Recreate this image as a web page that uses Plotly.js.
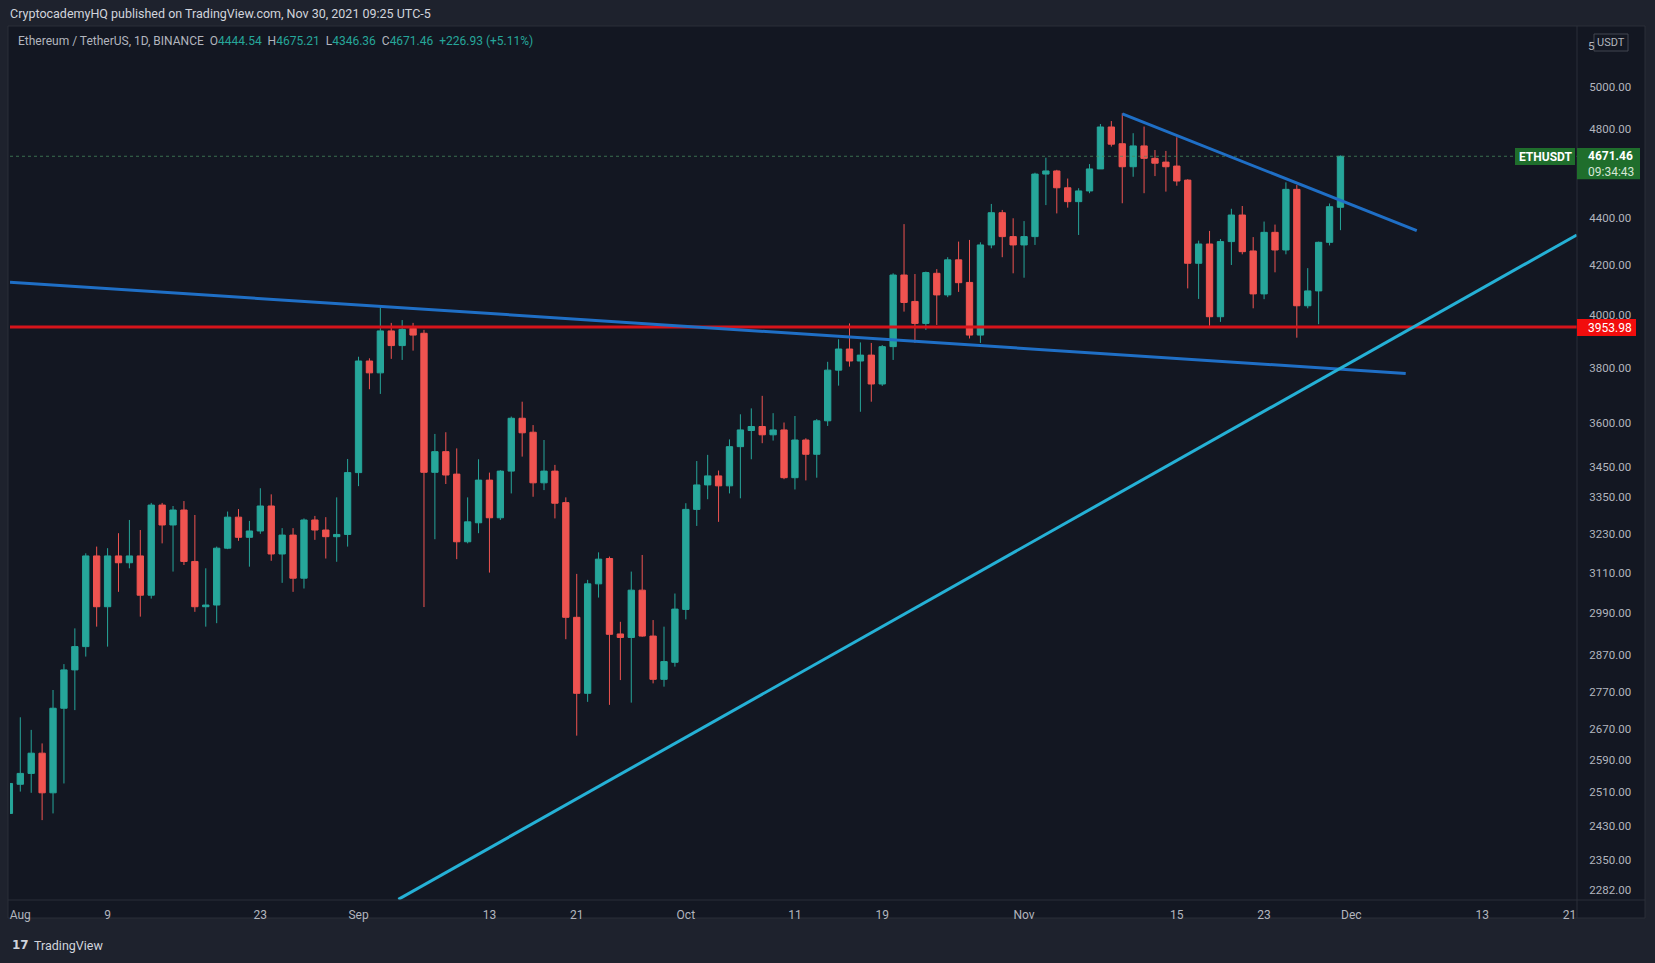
<!DOCTYPE html>
<html><head><meta charset="utf-8">
<script src="https://cdn.plot.ly/plotly-3.0.1.min.js"></script>
<style>html,body{margin:0;padding:0;background:#1e222d;overflow:hidden}#chart{width:1655px;height:963px}</style>
</head><body><div id="chart"></div>
<script>
// ---- data (ETH/USDT daily, Binance) ----
const firstDay = '2021-07-31';
const openP = [2459,
 2530,2557,2608,2509,2725,2829,2894,3162,3009,3162,3141,3162,3043,3323,3259,3307,3145,3009,3014,3186,3284,3220,3240,3320,3168,3227,3094,3275,3243,3222,3229,
 3430,3825,3781,3939,3883,3949,3930,3431,3501,3425,3206,3266,3405,3282,3435,3617,3568,3396,3435,3331,2978,2765,3077,3154,2930,2920,3058,2924,2803,2850,
 3001,3309,3389,3419,3386,3518,3574,3588,3559,3576,3413,3541,3492,3608,3791,3870,3825,3847,3740,3879,4160,4054,3968,4167,4080,4222,4130,3923,4284,4421,4319,
 4284,4319,4591,4605,4530,4469,4516,4614,4807,4729,4624,4719,4662,4645,4627,4564,4208,4288,3994,4298,4411,4259,4084,4337,4263,4523,4037,4096,4295,4444.54];
const highP = [2550,
 2701,2668,2633,2774,2845,2946,3170,3191,3186,3233,3275,3243,3330,3330,3320,3336,3291,3124,3191,3302,3310,3272,3378,3358,3249,3249,3280,3288,3284,3348,3476,
 3841,3835,4031,3970,3981,3970,3943,3562,3568,3512,3348,3475,3430,3438,3623,3676,3593,3541,3456,3348,3107,3089,3173,3160,2965,3114,3165,2970,2951,3048,
 3329,3469,3490,3437,3543,3631,3652,3697,3635,3602,3625,3547,3614,3822,3907,3968,3895,3893,3885,4167,4372,4164,4174,4184,4233,4298,4305,4295,4459,4433,4397,
 4385,4597,4665,4610,4571,4528,4636,4821,4835,4872,4778,4809,4700,4696,4759,4568,4302,4343,4309,4438,4450,4317,4383,4370,4554,4542,4188,4298,4461,4675.21];
const lowP = [2445,
 2512,2509,2443,2459,2532,2720,2866,2951,2894,3053,3124,2980,3033,3201,3114,3134,2994,2951,2961,3183,3209,3129,3231,3147,3080,3053,3063,3212,3154,3144,3191,
 3385,3721,3704,3833,3829,3864,3008,3214,3392,3152,3201,3233,3111,3275,3361,3484,3350,3372,3280,2915,2653,2742,3036,2734,2801,2740,2922,2792,2783,2838,
 2972,3256,3342,3269,3361,3345,3475,3530,3539,3408,3374,3404,3413,3590,3734,3804,3640,3676,3733,3829,4014,3893,3943,3962,4071,4092,3910,3893,4270,4233,4167,
 4149,4284,4454,4418,4443,4326,4506,4614,4716,4462,4579,4506,4582,4513,4539,4106,4064,3959,3974,4201,4245,4027,4063,4171,4245,3913,4027,3965,4282,4346.36];
const closeP = [2532,
 2557,2608,2509,2725,2829,2894,3162,3009,3162,3141,3162,3043,3323,3259,3307,3145,3009,3014,3186,3284,3220,3240,3320,3168,3227,3094,3275,3243,3222,3229,3430,
 3825,3781,3939,3883,3945,3923,3431,3501,3422,3206,3269,3405,3282,3435,3617,3566,3396,3435,3329,2978,2765,3077,3152,2929,2920,3058,2924,2803,2852,3002,
 3309,3389,3419,3386,3518,3576,3588,3559,3576,3413,3541,3492,3608,3791,3870,3825,3847,3740,3879,4160,4050,3968,4170,4080,4222,4129,3923,4284,4421,4319,4284,
 4319,4591,4605,4530,4469,4516,4614,4807,4727,4624,4719,4662,4640,4624,4560,4208,4288,3994,4298,4411,4256,4084,4337,4263,4523,4037,4096,4295,4447,4671.46];

const yTickValues = [5000,4800,4400,4200,4000,3800,3600,3450,3350,3230,3110,2990,2870,2770,2670,2590,2510,2430,2350,2282];
const hiddenTopTick = 5200;   // label mostly hidden behind the USDT badge, only its first digit shows
const xTickDates = ['2021-08-01','2021-08-09','2021-08-23','2021-09-01','2021-09-13','2021-09-21','2021-10-01','2021-10-11','2021-10-19','2021-11-01','2021-11-15','2021-11-23','2021-12-01','2021-12-13','2021-12-21'];
const xTickLabels = ['Aug','9','23','Sep','13','21','Oct','11','19','Nov','15','23','Dec','13','21'];

const supportLevel = 3953.98;
const lastPrice = 4671.46;
const lastTime = '09:34:43';
const symbol = 'ETHUSDT';
const trendLongX = ['2021-07-31 01:21','2021-12-05 23:30'];
const trendLongY = [4131, 3779];
const trendShortX = ['2021-11-10 00:15','2021-12-06 23:50'];
const trendShortY = [4869, 4344];
const trendRiseX = ['2021-09-04 15:36','2021-12-21 15:50'];
const trendRiseY = [2261, 4326];

// ---- build ----
const dates = [];
{ const d0 = new Date(firstDay + 'T00:00:00Z');
  for (let i = 0; i < closeP.length; i++) { const d = new Date(d0.getTime() + i*86400000); dates.push(d.toISOString().slice(0,10)); } }

const W = 1655, H = 963, ML = 10, MR = 78, MT = 27, MB = 63;
const PW = W-ML-MR, PH = H-MT-MB;
const Y0 = 3.35404, Y1 = 3.72428;
const XR = ['2021-07-31 01:21','2021-12-21 16:19'];
const px = p => (p-ML)/PW;
const py = p => (H-MB-p)/PH;
const priceToPix = v => MT + (Y1-Math.log10(v))/(Y1-Y0)*PH;
const FONT = 'Roboto, "Open Sans", sans-serif';
const UP = '#26a69a', DOWN = '#ef5350';

const traces = [
 {type:'scatter', mode:'lines', x:[XR[0], XR[1]], y:[lastPrice,lastPrice], line:{color:'rgba(70,140,95,0.75)', width:1, dash:'dot'}, hoverinfo:'skip', showlegend:false},
 {type:'candlestick', x:dates, open:openP, high:highP, low:lowP, close:closeP,
  increasing:{line:{color:UP, width:1}, fillcolor:UP},
  decreasing:{line:{color:DOWN, width:1}, fillcolor:DOWN},
  whiskerwidth:0, hoverinfo:'skip', showlegend:false},
 {type:'scatter', mode:'lines', x:['2021-07-20','2022-01-10'], y:[supportLevel,supportLevel], line:{color:'#d7141b', width:3}, hoverinfo:'skip', showlegend:false},
 {type:'scatter', mode:'lines', x:trendLongX, y:trendLongY, line:{color:'#1f6fc6', width:3}, hoverinfo:'skip', showlegend:false},
 {type:'scatter', mode:'lines', x:trendShortX, y:trendShortY, line:{color:'#1f6fc6', width:3}, hoverinfo:'skip', showlegend:false},
 {type:'scatter', mode:'lines', x:trendRiseX, y:trendRiseY, line:{color:'#25b1d6', width:3}, hoverinfo:'skip', showlegend:false}
];

const cy = priceToPix(lastPrice), cs = priceToPix(supportLevel), ct = priceToPix(hiddenTopTick);
const GREEN = '#1f6e2c';
const shapes = [
 {type:'rect', xref:'paper', yref:'paper', x0:px(8), x1:px(1645), y0:py(918), y1:py(26), fillcolor:'#131722', line:{color:'#2a2e39', width:1}, layer:'below'},
 {type:'line', xref:'paper', yref:'paper', x0:1, x1:1, y0:py(918), y1:py(26), line:{color:'#2a2e39', width:1}},
 {type:'line', xref:'paper', yref:'paper', x0:px(8), x1:px(1645), y0:0, y1:0, line:{color:'#2a2e39', width:1}},
 {type:'rect', xref:'paper', yref:'paper', x0:px(1515), x1:px(1575), y0:py(cy+8.7), y1:py(cy-8.3), fillcolor:GREEN, line:{width:0}},
 {type:'rect', xref:'paper', yref:'paper', x0:px(1577), x1:px(1640), y0:py(cy+23), y1:py(cy-8.3), fillcolor:GREEN, line:{width:0}},
 {type:'rect', xref:'paper', yref:'paper', x0:px(1577), x1:px(1636), y0:py(cs+9), y1:py(cs-8), fillcolor:'#f20d0d', line:{width:0}},
 {type:'rect', xref:'paper', yref:'paper', x0:px(1594), x1:px(1628), y0:py(51), y1:py(34), fillcolor:'#131722', line:{color:'#434651', width:1}}
];

const T = (x, y, text, opt={}) => Object.assign({xref:'paper', yref:'paper', x:px(x), y:py(y), text, showarrow:false, xanchor:'left', yanchor:'middle', font:{family:FONT, size:12, color:'#d1d4dc'}}, opt);
const v = s => '<span style="color:'+UP+'">'+s+'</span>';
const sp = '\u00a0\u00a0';
const annotations = [
 T(8, 13.5, 'CryptocademyHQ published on TradingView.com, Nov 30, 2021 09:25 UTC-5', {font:{family:FONT, size:12.5, color:'#d1d4dc'}}),
 T(16, 41, 'Ethereum / TetherUS, 1D, BINANCE' + sp + 'O' + v('4444.54') + sp + 'H' + v('4675.21') + sp + 'L' + v('4346.36') + sp + 'C' + v('4671.46') + sp + v('+226.93 (+5.11%)'), {font:{family:FONT, size:12, color:'#b2b5be'}}),
 T(1545, cy+0.3, '<b>'+symbol+'</b>', {xanchor:'center', font:{family:FONT, size:12, color:'#ffffff'}}),
 T(1586, cy, '<b>'+lastPrice.toFixed(2)+'</b>', {font:{family:FONT, size:12, color:'#ffffff'}}),
 T(1586, cy+15.5, lastTime, {font:{family:FONT, size:12, color:'#d6e6d6'}}),
 T(1586, cs+0.5, supportLevel.toFixed(2), {font:{family:FONT, size:12, color:'#ffffff'}}),
 T(1586, ct-1, String(hiddenTopTick).charAt(0), {font:{family:FONT, size:11.5, color:'#b2b5be'}}),
 T(1611, 42.5, 'USDT', {xanchor:'center', font:{family:FONT, size:11, color:'#b2b5be'}}),
 T(10, 945, '<b>17</b>', {font:{family:'DejaVu Sans', size:12, color:'#d1d4dc'}}),
 T(32, 945, 'TradingView', {font:{family:FONT, size:12.5, color:'#d1d4dc'}})
];

const layout = {
 width:W, height:H, margin:{l:ML, r:MR, t:MT, b:MB, pad:0},
 paper_bgcolor:'#1e222d', plot_bgcolor:'#131722',
 boxgap:0.42, boxgroupgap:0,
 showlegend:false, dragmode:false, hovermode:false,
 xaxis:{type:'date', range:XR, tickvals:xTickDates, ticktext:xTickLabels, tickmode:'array',
   showgrid:false, zeroline:false, showline:false, ticks:'outside', ticklen:4, tickcolor:'rgba(0,0,0,0)',
   tickfont:{family:FONT, size:12, color:'#b2b5be'}, rangeslider:{visible:false}, fixedrange:true},
 yaxis:{type:'log', side:'right', range:[Y0,Y1], tickmode:'array', tickvals:yTickValues, ticktext:yTickValues.map(t=>t.toFixed(2)),
   showgrid:false, zeroline:false, showline:false, ticks:'outside', ticklen:9, tickcolor:'rgba(0,0,0,0)',
   tickfont:{family:FONT, size:11.5, color:'#b2b5be'}, fixedrange:true},
 shapes, annotations
};
Plotly.newPlot('chart', traces, layout, {staticPlot:true, displayModeBar:false});
</script></body></html>
